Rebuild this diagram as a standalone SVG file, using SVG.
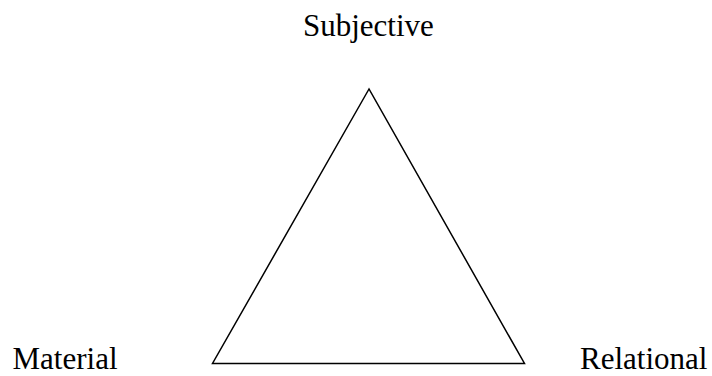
<svg xmlns="http://www.w3.org/2000/svg" width="712" height="376" viewBox="0 0 712 376">
<style>
.lbl{font-family:"Liberation Serif","Times New Roman",serif;font-size:31px;fill:#000}
.edge{stroke:#000;stroke-width:1.5;fill:none}
</style>
<rect width="712" height="376" fill="#fff"/>
<g id="connectors">
<path class="edge" d="M369,89 L212.5,363.5 L524.5,363.5 Z"/>
</g>
<g id="subjective"><text class="lbl" x="303" y="36">Subjective</text></g>
<g id="material"><text class="lbl" x="12.5" y="369">Material</text></g>
<g id="relational"><text class="lbl" x="580" y="369">Relational</text></g>
</svg>
